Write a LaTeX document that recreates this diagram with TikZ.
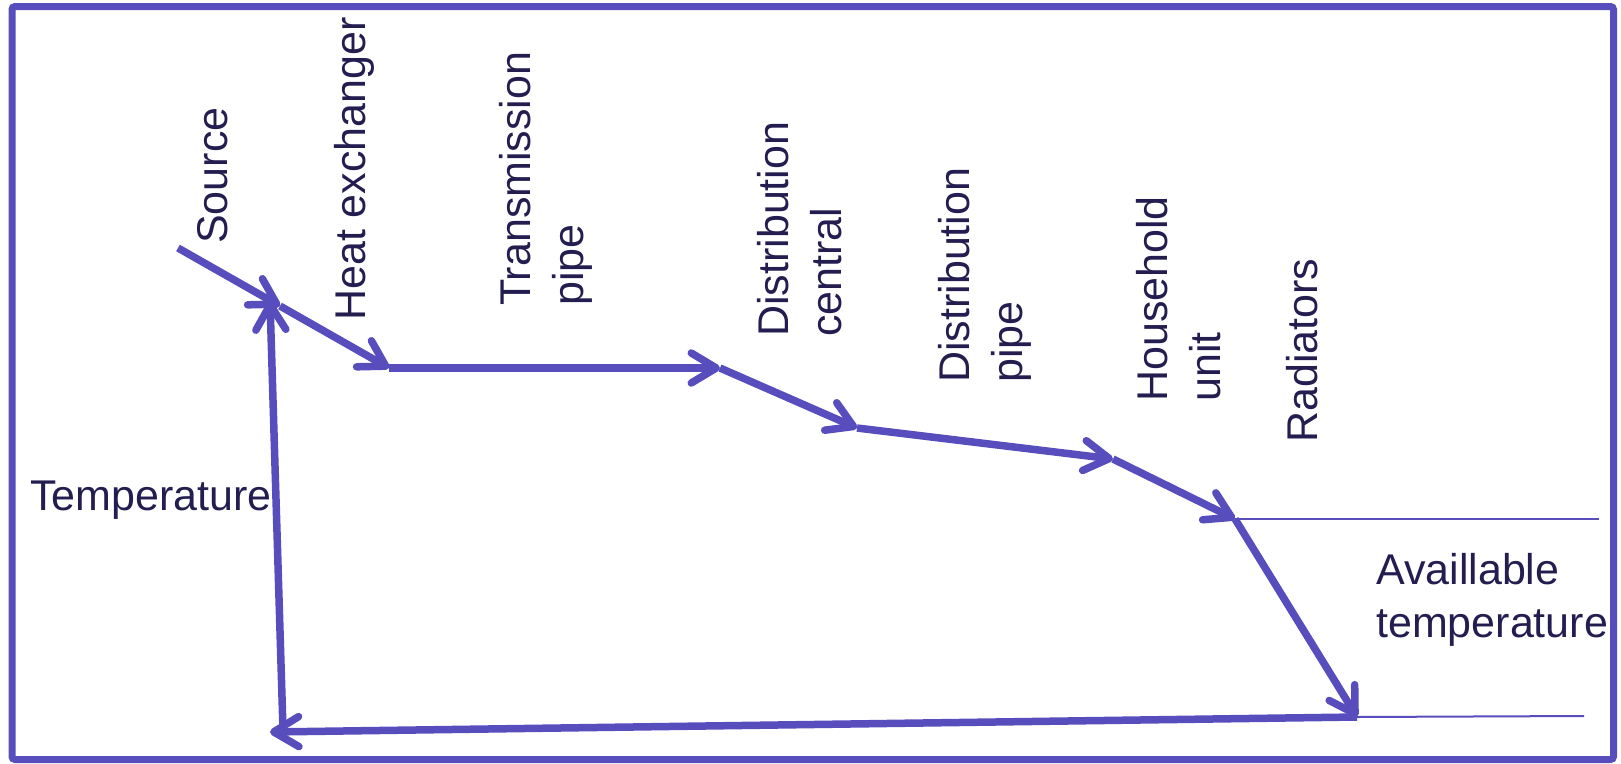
\documentclass[tikz,border=0pt]{standalone}
\usepackage{fontspec}
\setmainfont{Liberation Sans}
\usetikzlibrary{arrows.meta}
\definecolor{lineblue}{RGB}{87,77,189}
\definecolor{textnavy}{RGB}{35,29,80}
\begin{document}
\begin{tikzpicture}[x=1pt,y=-1pt,
  flow/.style={draw=lineblue, line width=7.5pt, -{Straight Barb[length=25pt,width=30pt,round]}},
  thinline/.style={draw=lineblue, line width=2pt},
  lbl/.style={text=textnavy, font=\fontsize{43}{53}\selectfont, inner sep=0pt, align=left},
  vlbl/.style={lbl, rotate=90, anchor=north west}]
\useasboundingbox (0,0) rectangle (1621,763);
\draw[lineblue, line width=7pt, rounded corners=3pt] (12,6.5) rectangle (1613.5,759.5);
% points
\coordinate (s0) at (178,248);
\coordinate (s1) at (280,306);
\coordinate (s2) at (389,368);
\coordinate (s3) at (720,368);
\coordinate (s4) at (857,428);
\coordinate (s5) at (1113,459);
\coordinate (s6) at (1235,519);
\coordinate (s7) at (1357,717);
\coordinate (s8) at (270,732);
\coordinate (v0) at (283,730);
\coordinate (v1) at (270,301);
\coordinate (e1) at (1599,519);
\coordinate (e2) at (1584,716);
% connectors
\draw[flow] (s0) -- (s1);
\draw[flow] (s1) -- (s2);
\draw[flow] (s2) -- (s3);
\draw[flow] (s3) -- (s4);
\draw[flow] (s4) -- (s5);
\draw[flow] (s5) -- (s6);
\draw[flow] (s6) -- (s7);
\draw[flow] (s7) -- (s8);
\draw[flow] (v0) -- (v1);
\draw[thinline] (s6) -- (e1);
\draw[thinline] (s7) -- (e2);
% labels
\node[vlbl] (source) at (197,244) {Source};
\node[vlbl] (heatex) at (334,321) {Heat exchanger};
\node[vlbl] (transpipe) at (499,306) {Transmission\\pipe};
\node[vlbl] (distcentral) at (757,337) {Distribution\\central};
\node[vlbl] (distpipe) at (938,383) {Distribution\\pipe};
\node[vlbl] (household) at (1136,402) {Household\\unit};
\node[vlbl] (radiators) at (1286,443) {Radiators};
\node[lbl, anchor=base west] (temp) at (30,510) {Temperature};
\node[lbl, anchor=north west] (avail) at (1376,553) {Availlable\\temperature};
\end{tikzpicture}
\end{document}
